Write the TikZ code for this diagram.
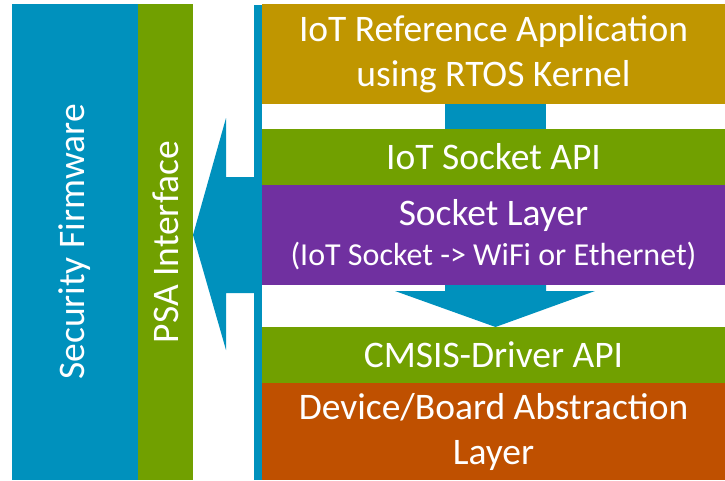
\documentclass[tikz,border=0pt]{standalone}
\usepackage{fontspec}
\setmainfont{Carlito}
\usetikzlibrary{calc}

\definecolor{armblue}{RGB}{0,145,189}
\definecolor{armgreen}{RGB}{113,160,0}
\definecolor{armgold}{RGB}{192,150,0}
\definecolor{armpurple}{RGB}{112,48,160}
\definecolor{armorange}{RGB}{191,80,0}

\begin{document}
\begin{tikzpicture}[x=1pt, y=-1pt,
  every node/.style={inner sep=0pt, outer sep=0pt},
  block/.style={rectangle, anchor=north west, draw=none},
  label/.style={text=white, align=center, font=\fontsize{37.5}{45}\selectfont},
  layer/.style={block, minimum width=463pt},
  conn/.style={fill=armblue, draw=none}]
  \useasboundingbox (0,0) rectangle (725,480);

  % left column: security firmware and PSA interface
  \node[block, fill=armblue, minimum width=126pt, minimum height=476pt] (sec) at (12,4) {};
  \node[block, fill=armgreen, minimum width=55pt, minimum height=476pt] (psa) at (138,4) {};
  \node[label, rotate=90] (sectext) at (sec.center) {Security Firmware};
  \node[label, rotate=90] (psatext) at (psa.center) {PSA Interface};

  % thin vertical bar beside the stack
  \node[block, fill=armblue, minimum width=8pt, minimum height=475pt] (bar) at (254,5) {};

  % the layer stack
  \node[layer, fill=armgold, minimum height=100pt] (app) at (262,4) {};
  \node[label] at (app.center) {IoT Reference Application\\using RTOS Kernel};

  \node[layer, fill=armgreen, minimum height=56pt] (iotapi) at (262,129) {};
  \node[label] at (iotapi.center) {IoT Socket API};

  \node[layer, fill=armpurple, minimum height=100pt] (sock) at (262,185) {};
  \node[label, font=\fontsize{37.5}{40}\selectfont] at (sock.center)
    {Socket Layer\\{\fontsize{32}{40}\selectfont(IoT Socket -> WiFi or Ethernet)}};

  \node[layer, fill=armgreen, minimum height=56pt] (cmsis) at (262,327) {};
  \node[label] at (cmsis.center) {CMSIS-Driver API};

  \node[layer, fill=armorange, minimum height=97pt] (dev) at (262,383) {};
  \node[label] at (dev.center) {Device/Board Abstraction\\Layer};

  % connector between application and socket API
  \coordinate (cl) at (445,0);
  \coordinate (cr) at (546,0);
  \fill[conn] (cl |- app.south) rectangle (cr |- iotapi.north);

  % down arrow from socket layer to CMSIS-Driver API
  \fill[conn] (cl |- sock.south) -- (cr |- sock.south) -- ($(cr |- sock.south)+(0,6)$)
    -- ($(cr |- sock.south)+(49,6)$) -- ($(cl |- cmsis.north)!0.5!(cr |- cmsis.north)$)
    -- ($(cl |- sock.south)+(-50,6)$) -- ($(cl |- sock.south)+(0,6)$) -- cycle;

  % left arrow from the stack to the PSA interface
  \coordinate (tip) at (193,235);
  \coordinate (hb) at (226,0);
  \coordinate (htop) at (0,118);
  \coordinate (stop) at (0,177);
  \coordinate (sbot) at (0,293);
  \coordinate (hbot) at (0,350);
  \fill[conn] (tip) -- (hb |- htop) -- (hb |- stop) -- (bar.west |- stop)
    -- (bar.west |- sbot) -- (hb |- sbot) -- (hb |- hbot) -- cycle;
\end{tikzpicture}
\end{document}
